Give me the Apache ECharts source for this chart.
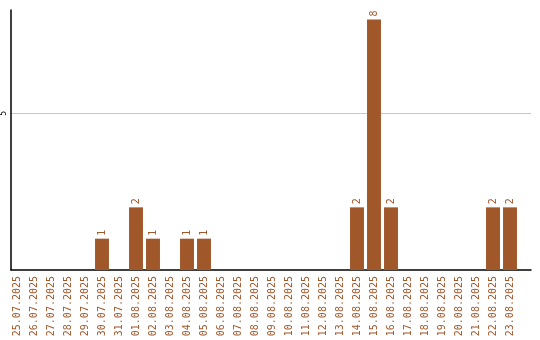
<!DOCTYPE html>
<html><head><meta charset="utf-8">
<script src="https://cdn.jsdelivr.net/npm/echarts@6/dist/echarts.min.js"></script>
<style>html,body{margin:0;padding:0;background:#fff}#c{width:540px;height:340px}</style>
</head><body><div id="c"></div>
<script>
const categories = ["25.07.2025","26.07.2025","27.07.2025","28.07.2025","29.07.2025","30.07.2025","31.07.2025","01.08.2025","02.08.2025","03.08.2025","04.08.2025","05.08.2025","06.08.2025","07.08.2025","08.08.2025","09.08.2025","10.08.2025","11.08.2025","12.08.2025","13.08.2025","14.08.2025","15.08.2025","16.08.2025","17.08.2025","18.08.2025","19.08.2025","20.08.2025","21.08.2025","22.08.2025","23.08.2025"];
const values = [0,0,0,0,0,1,0,2,1,0,1,1,0,0,0,0,0,0,0,0,2,8,2,0,0,0,0,0,2,2];
const yTicks = [5];
const color = '#A0572A';
const chart = echarts.init(document.getElementById('c'));
chart.setOption({
  animation: false,
  grid: [
    {left: 8.5, right: 21.5, top: 10, bottom: 70},
    {left: 11, right: 9, top: 10, bottom: 70}
  ],
  xAxis: [{
    gridIndex: 0, type: 'category', data: categories,
    axisLine: {show: false},
    axisTick: {show: false},
    axisLabel: {rotate: 90, interval: 0, color: color, fontFamily: 'DejaVu Sans Mono', fontSize: 10, margin: 6}
  }, {
    gridIndex: 1, type: 'value', min: 0, max: 1,
    axisLine: {show: true, lineStyle: {color: '#000', width: 1.5}},
    axisTick: {show: false}, axisLabel: {show: false}, splitLine: {show: false}
  }],
  yAxis: [{
    gridIndex: 0, type: 'value', min: 0, max: 8.3, show: false
  }, {
    gridIndex: 1, type: 'value', min: 0, max: 8.3, interval: 5,
    axisLine: {show: true, lineStyle: {color: '#000', width: 1.5}},
    axisTick: {show: false},
    axisLabel: {rotate: 90, color: '#000', fontFamily: 'DejaVu Sans Mono', fontSize: 8, margin: 3,
      formatter: v => (yTicks.includes(v) ? String(v) : '')},
    splitLine: {lineStyle: {color: ['transparent', '#c8c8c8', 'transparent']}}
  }],
  series: [{
    type: 'bar', xAxisIndex: 0, yAxisIndex: 0, data: values, barCategoryGap: '18%',
    itemStyle: {color: color},
    label: {show: true, position: 'top', rotate: 90, align: 'left', verticalAlign: 'middle', distance: 3,
      color: color, fontFamily: 'DejaVu Sans Mono', fontSize: 10,
      formatter: p => (p.value > 0 ? String(p.value) : '')}
  }]
});
</script></body></html>
